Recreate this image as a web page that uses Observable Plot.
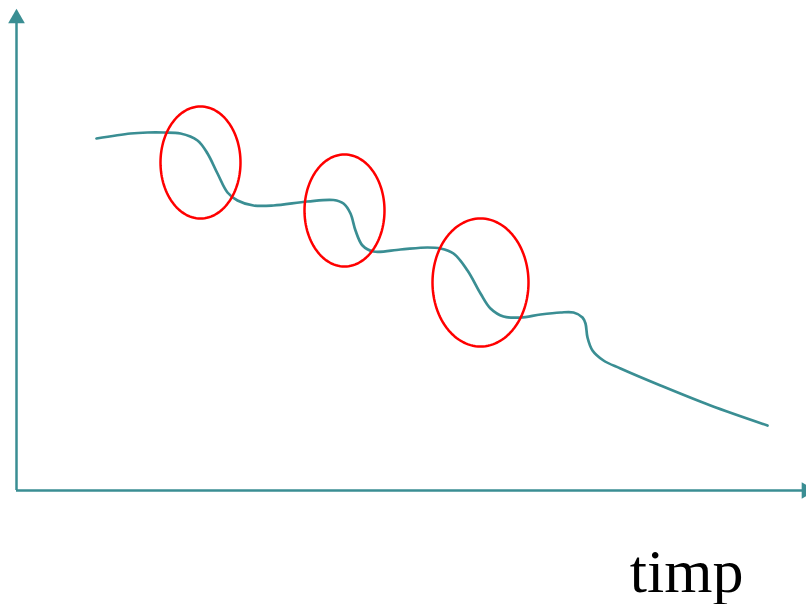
<!DOCTYPE html>
<html>
<head>
<meta charset="utf-8">
<script src="https://cdn.jsdelivr.net/npm/d3@7"></script>
<script src="https://cdn.jsdelivr.net/npm/@observablehq/plot@0.6"></script>
<style>
  html, body { margin: 0; padding: 0; background: #fff; }
  #chart svg { display: block; }
</style>
</head>
<body>
<div id="chart"></div>
<script>
// Curve (time, value)
const curveT = [80,114,131,147,164,181,191,201,211,221,237,257,291,317,327,334,339,346,357,384,411,424,437,451,464,474,487,504,524,544,557,566,569,571,576,587,604,644,694,751];
const curveV = [352,357,358,358,357,350,337,317,298,290,285,285,289,290.5,287,277,260,245,239,241,243,242,237,220,197,182,174,173,176,178,178,173,167,153,140,130,122,105,85,65];

// Highlight ellipses: centre and radii in data units
const ellCx = [184, 328, 464];
const ellCy = [328, 280, 208];
const ellRx = [40, 40, 48];
const ellRy = [56, 56, 64];

// Axis extents
const axisMaxT = [790];
const axisMaxV = [472];
const axisLabel = ["timp"];

const teal = "#3a8e93";

const curve = curveT.map((t, i) => ({t, v: curveV[i]}));
const ellipses = [];
ellCx.forEach((cx, k) => {
  for (let a = 0; a < 120; a++) {
    const th = a / 120 * 2 * Math.PI;
    ellipses.push({k, t: cx + ellRx[k] * Math.cos(th), v: ellCy[k] + ellRy[k] * Math.sin(th)});
  }
});

const chart = Plot.plot({
  width: 806,
  height: 604,
  margin: 0,
  x: {domain: [-16, 790], axis: null},
  y: {domain: [-114, 490], axis: null},
  marks: [
    Plot.ruleX([0], {y1: 0, y2: axisMaxV[0], stroke: teal, strokeWidth: 2.5}),
    Plot.ruleY([0], {x1: 0, x2: axisMaxT[0], stroke: teal, strokeWidth: 2.5}),
    Plot.dot([{t: 0, v: axisMaxV[0]}], {x: "t", y: "v", symbol: "triangle", r: 6.2, fill: teal, stroke: null}),
    Plot.dot([{t: axisMaxT[0], v: 0}], {x: "t", y: "v", symbol: "triangle", r: 6.2, fill: teal, stroke: null, rotate: 90}),
    Plot.line(curve, {x: "t", y: "v", curve: "catmull-rom", stroke: teal, strokeWidth: 2.7}),
    Plot.line(ellipses, {x: "t", y: "v", z: "k", curve: "linear-closed", stroke: "#ff0000", strokeWidth: 2.5, fill: "none"}),
    Plot.text(axisLabel, {text: d => d, frameAnchor: "bottom-right", dx: -63, dy: -13, fontSize: 62, fontFamily: "Liberation Serif", fill: "#000"})
  ]
});
document.getElementById("chart").append(chart);
</script>
</body>
</html>
